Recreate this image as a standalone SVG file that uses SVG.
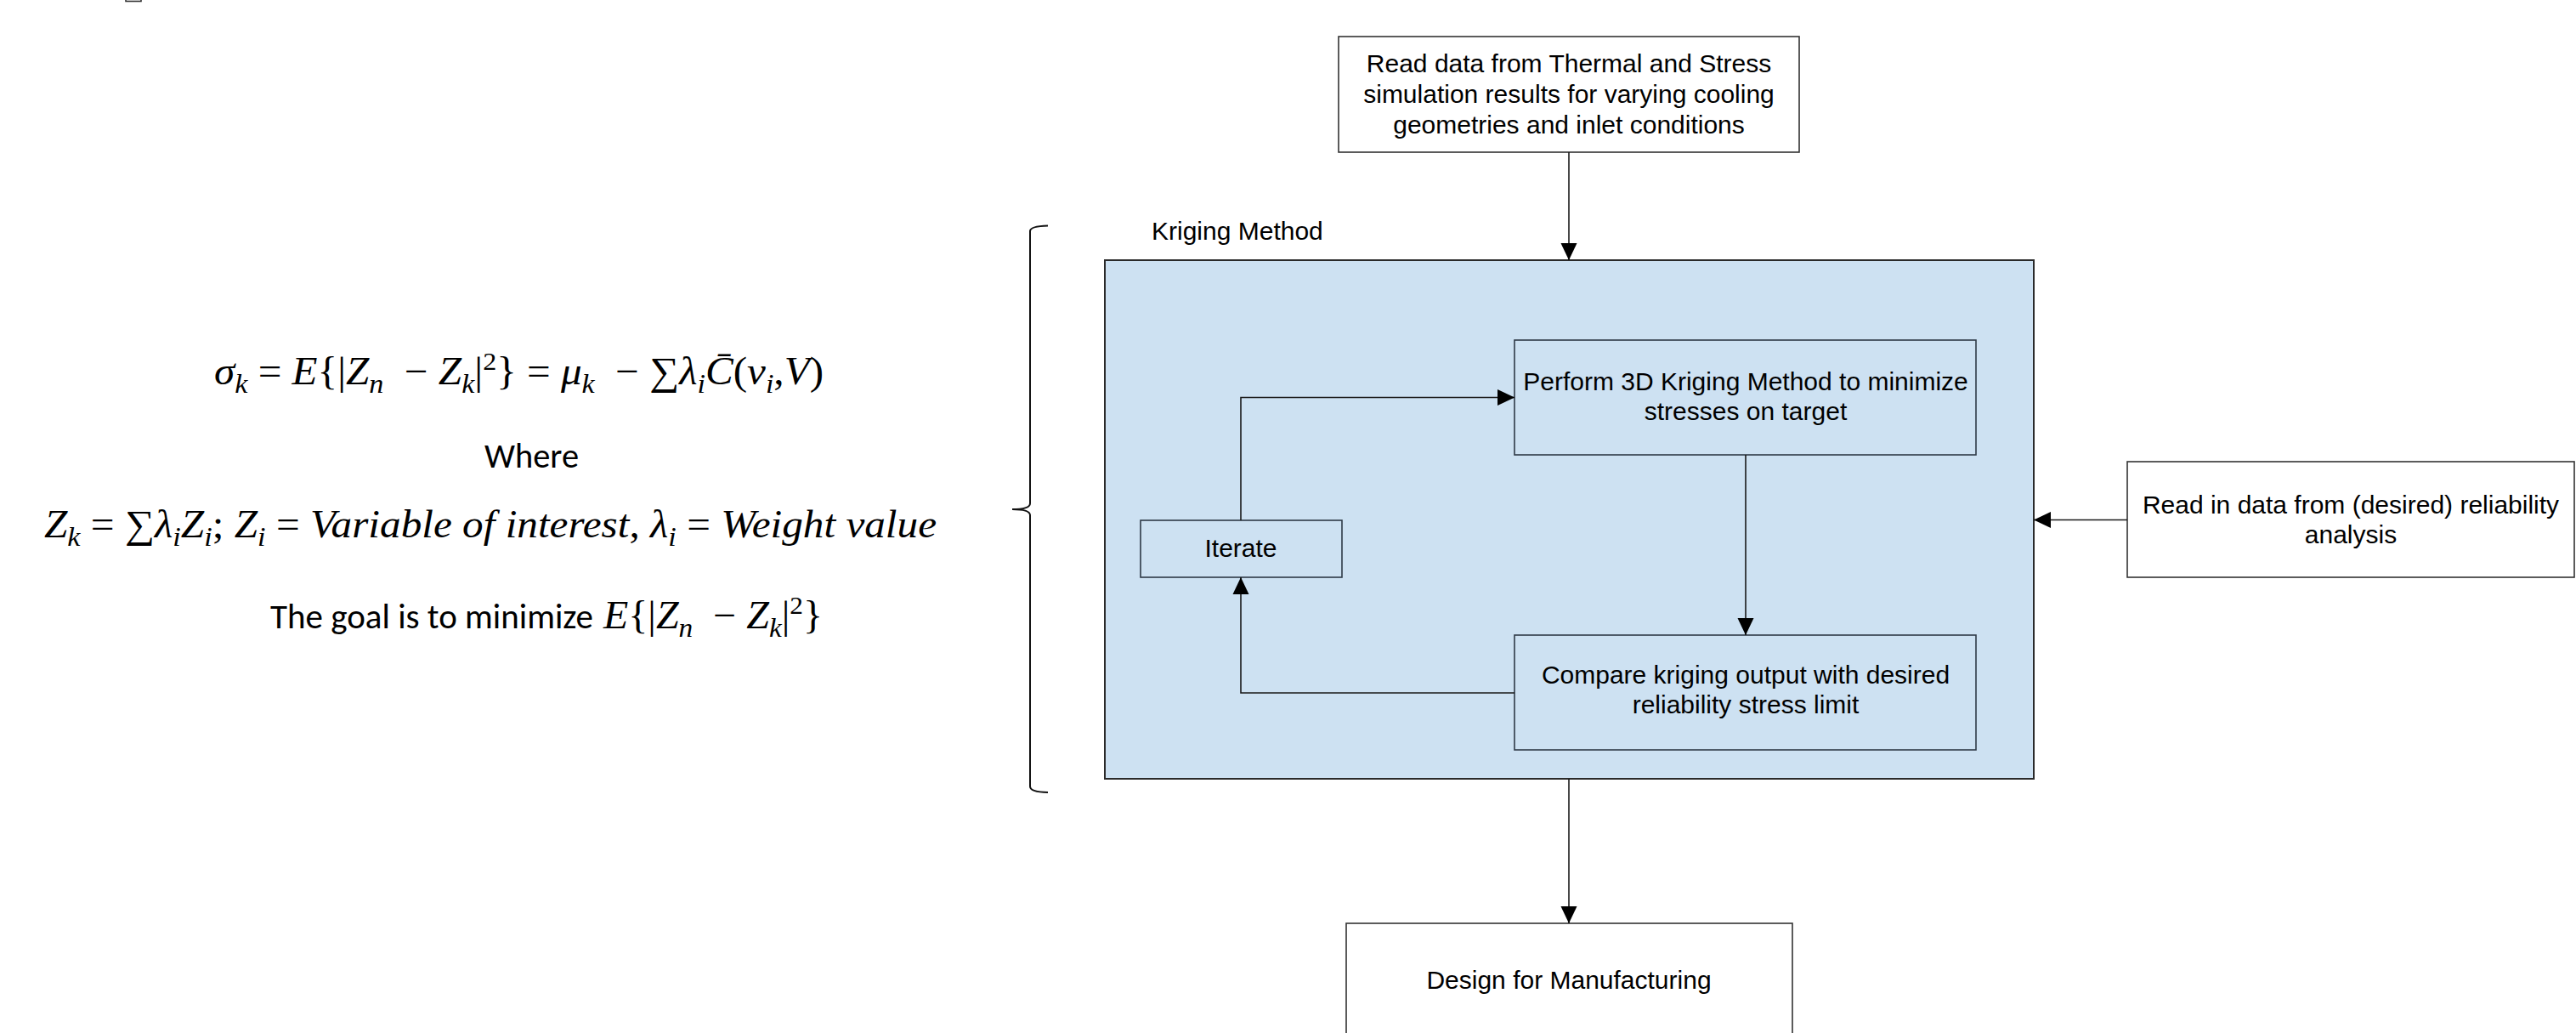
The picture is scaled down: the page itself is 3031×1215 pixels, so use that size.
<svg xmlns="http://www.w3.org/2000/svg" width="3031" height="1215" viewBox="0 0 3031 1215">
<style>
.box{fill:#ffffff;stroke:#333333;stroke-width:1.6}
.inner{fill:#cde1f2;stroke:#2f3a46;stroke-width:1.6}
.group{fill:#cde1f2;stroke:#2a2a2a;stroke-width:2}
.lbl{font-family:"Liberation Sans",Arial,sans-serif;font-size:30px;fill:#000;text-anchor:middle}
.conn{fill:none;stroke:#1a1a1a;stroke-width:1.6}
.math{font-family:"Liberation Serif","Times New Roman",serif;font-size:46px;fill:#000}
.it{font-style:italic}
.sub{font-style:italic;font-size:32px}
.sup{font-size:30px}
.cal{font-family:Carlito,Lato,sans-serif;font-size:40px;fill:#000}
</style>
<defs>
<marker id="ah" viewBox="0 0 20 20" refX="20" refY="10" markerWidth="20" markerHeight="20" orient="auto" markerUnits="userSpaceOnUse"><path d="M0,0.5 L20,10 L0,19.5 z" fill="#000"/></marker>
</defs>
<rect width="3031" height="1215" fill="#ffffff"/>

<rect x="148" y="-8" width="18" height="9.5" fill="none" stroke="#333" stroke-width="1.6"/>

<g id="formulas">
<text class="math" x="252" y="452" textLength="717" lengthAdjust="spacingAndGlyphs"><tspan class="it">σ</tspan><tspan class="sub" dy="10">k</tspan><tspan dy="-10"> = </tspan><tspan class="it">E</tspan>{|<tspan class="it">Z</tspan><tspan class="sub" dy="10">n</tspan><tspan dy="-10" xml:space="preserve">  − </tspan><tspan class="it">Z</tspan><tspan class="sub" dy="10">k</tspan><tspan dy="-10">|</tspan><tspan class="sup" dy="-17">2</tspan><tspan dy="17">} = </tspan><tspan class="it">μ</tspan><tspan class="sub" dy="10">k</tspan><tspan dy="-10" xml:space="preserve">  − ∑</tspan><tspan class="it">λ</tspan><tspan class="sub" dy="10">i</tspan><tspan class="it" dy="-10">C̄</tspan>(<tspan class="it">v</tspan><tspan class="sub" dy="10">i</tspan><tspan dy="-10">,</tspan><tspan class="it">V</tspan>)</text>
<text class="cal" x="570" y="550" textLength="111" lengthAdjust="spacingAndGlyphs">Where</text>
<text class="math" x="52" y="632" textLength="1050" lengthAdjust="spacingAndGlyphs"><tspan class="it">Z</tspan><tspan class="sub" dy="10">k</tspan><tspan dy="-10"> = ∑</tspan><tspan class="it">λ</tspan><tspan class="sub" dy="10">i</tspan><tspan class="it" dy="-10">Z</tspan><tspan class="sub" dy="10">i</tspan><tspan dy="-10">; </tspan><tspan class="it">Z</tspan><tspan class="sub" dy="10">i</tspan><tspan dy="-10"> = </tspan><tspan class="it">Variable of interest</tspan>, <tspan class="it">λ</tspan><tspan class="sub" dy="10">i</tspan><tspan dy="-10"> = </tspan><tspan class="it">Weight value</tspan></text>
<text class="cal" x="318" y="739" textLength="380" lengthAdjust="spacingAndGlyphs">The goal is to minimize</text>
<text class="math" x="710" y="739" textLength="258" lengthAdjust="spacingAndGlyphs"><tspan class="it">E</tspan>{|<tspan class="it">Z</tspan><tspan class="sub" dy="10">n</tspan><tspan dy="-10" xml:space="preserve">  − </tspan><tspan class="it">Z</tspan><tspan class="sub" dy="10">k</tspan><tspan dy="-10">|</tspan><tspan class="sup" dy="-17">2</tspan><tspan dy="17">}</tspan></text>
</g>

<g id="brace">
<path d="M1233,265.5 Q1212,266 1212,272 L1212,592 Q1212,599 1191,599 Q1212,599 1212,606 L1212,925 Q1212,931.5 1233,932" fill="none" stroke="#111" stroke-width="2"/>
</g>

<g id="kriging-group">
<rect class="group" x="1300" y="306" width="1093" height="610"/>
<text class="lbl" x="1355" y="282" style="text-anchor:start">Kriging Method</text>
</g>

<g id="read-thermal">
<rect class="box" x="1575" y="43" width="542" height="136"/>
<text class="lbl" x="1846" y="85">Read data from Thermal and Stress</text>
<text class="lbl" x="1846" y="121">simulation results for varying cooling</text>
<text class="lbl" x="1846" y="157">geometries and inlet conditions</text>
</g>

<g id="perform">
<rect class="inner" x="1782" y="400" width="543" height="135"/>
<text class="lbl" x="2054" y="459">Perform 3D Kriging Method to minimize</text>
<text class="lbl" x="2054" y="494">stresses on target</text>
</g>

<g id="compare">
<rect class="inner" x="1782" y="747" width="543" height="135"/>
<text class="lbl" x="2054" y="804">Compare kriging output with desired</text>
<text class="lbl" x="2054" y="839">reliability stress limit</text>
</g>

<g id="iterate">
<rect class="inner" x="1342" y="612" width="237" height="67"/>
<text class="lbl" x="1460" y="655">Iterate</text>
</g>

<g id="reliability">
<rect class="box" x="2503" y="543" width="526" height="136"/>
<text class="lbl" x="2766" y="604">Read in data from (desired) reliability</text>
<text class="lbl" x="2766" y="639">analysis</text>
</g>

<g id="dfm">
<rect class="box" x="1584" y="1086" width="525" height="200"/>
<text class="lbl" x="1846" y="1163">Design for Manufacturing</text>
</g>

<g id="connectors">
<path class="conn" d="M1846,179 V306" marker-end="url(#ah)"/>
<path class="conn" d="M1460,612 V467.5 H1782" marker-end="url(#ah)"/>
<path class="conn" d="M2054,535 V747" marker-end="url(#ah)"/>
<path class="conn" d="M1782,815 H1460 V679" marker-end="url(#ah)"/>
<path class="conn" d="M2503,611.5 H2393" marker-end="url(#ah)"/>
<path class="conn" d="M1846,916 V1086" marker-end="url(#ah)"/>
</g>
</svg>
